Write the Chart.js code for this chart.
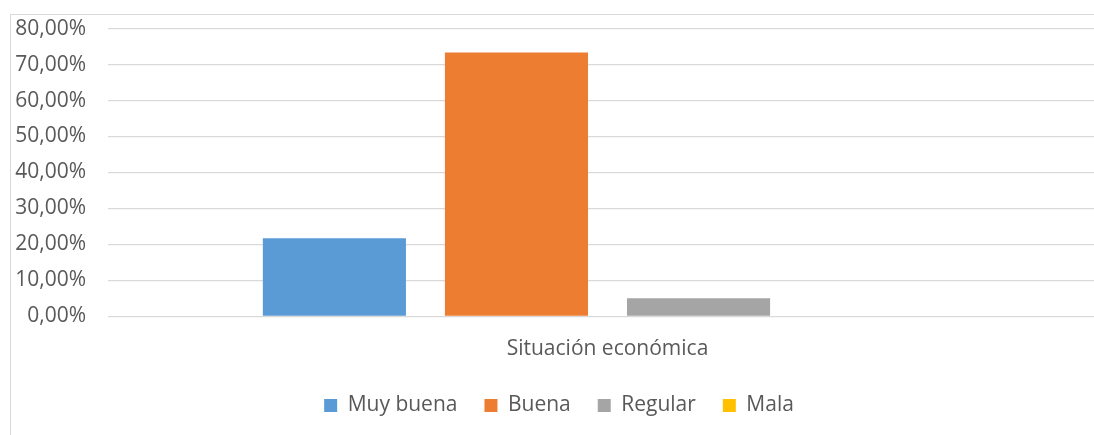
<!DOCTYPE html>
<html>
<head>
<meta charset="utf-8">
<script src="https://cdn.jsdelivr.net/npm/chart.js@4/dist/chart.umd.min.js"></script>
<style>
  body { margin: 0; background: #fff; overflow: hidden; }
  #box {
    position: absolute; left: 10px; top: 14px;
    width: 1120px; height: 440px;
    border: 1px solid #d9d9d9; box-sizing: border-box;
  }
  #wrap { position: absolute; left: 0; top: -21px; width: 1096px; height: 437px; }
</style>
</head>
<body>
<div id="box"><div id="wrap"><canvas id="barChart"></canvas></div></div>
<script>
// datos del gráfico
const categories = ['Situación económica'];
const seriesNames = ['Muy buena', 'Buena', 'Regular', 'Mala'];
const muyBuena = [21.67];
const buena = [73.33];
const regular = [5.0];
const mala = [0];
const yTicks = [0, 10, 20, 30, 40, 50, 60, 70, 80];

const colors = ['#5b9bd5', '#ed7d31', '#a5a5a5', '#ffc000'];
const seriesValues = [muyBuena, buena, regular, mala];

Chart.defaults.font.family = '"Open Sans", Lato, sans-serif';
Chart.defaults.font.size = 21;
Chart.defaults.color = '#595959';

const ctx = document.getElementById('barChart').getContext('2d');
const barChart = new Chart(ctx, {
    type: 'bar',
    data: {
        labels: categories,
        datasets: seriesNames.map((name, i) => ({
            label: name,
            data: seriesValues[i],
            backgroundColor: colors[i],
            borderWidth: 0,
            categoryPercentage: 0.729,
            barPercentage: 0.786
        }))
    },
    options: {
        responsive: true,
        maintainAspectRatio: false,
        animation: false,
        layout: { padding: { top: 4, right: 0, bottom: 5, left: 0 } },
        plugins: {
            tooltip: { enabled: false },
            legend: {
                position: 'bottom',
                labels: {
                    boxWidth: 13,
                    boxHeight: 13,
                    padding: 27,
                    font: { size: 21 }
                }
            }
        },
        scales: {
            x: {
                grid: { display: false, drawTicks: false },
                border: { display: false },
                ticks: { padding: 20.5 },
                afterFit: (axis) => { axis.height = axis.height - 14.5; }
            },
            y: {
                min: 0,
                max: 80,
                afterBuildTicks: (axis) => { axis.ticks = yTicks.map(v => ({ value: v })); },
                afterFit: (axis) => { axis.width = 97; },
                grid: { color: '#d9d9d9', lineWidth: 1.3, drawTicks: false },
                border: { display: false },
                ticks: {
                    padding: 22,
                    callback: (v) => v.toFixed(2).replace('.', ',') + '%'
                }
            }
        }
    }
});
</script>
</body>
</html>
